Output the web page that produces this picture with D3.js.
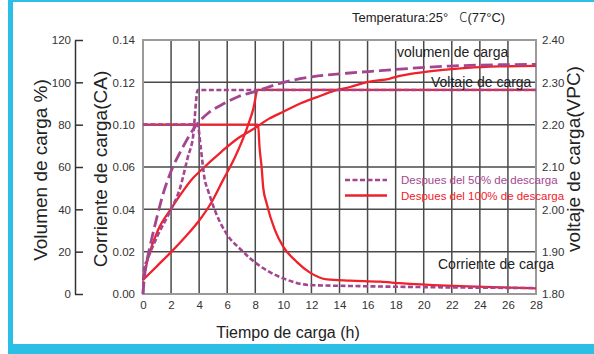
<!DOCTYPE html>
<html><head><meta charset="utf-8">
<script src="https://cdn.jsdelivr.net/npm/d3@7"></script>
<style>
html,body{margin:0;padding:0;background:#fff;}
svg{display:block;font-family:"Liberation Sans",Arial,sans-serif;}
</style></head>
<body>
<svg id="chart" width="594" height="354"></svg>
<script>
// ---- data ----
const hourTicks = [0,2,4,6,8,10,12,14,16,18,20,22,24,26,28];
const pctTicks = [0,20,40,60,80,100,120];
const currentTicks = [0,0.02,0.04,0.06,0.10,0.12,0.14];
const currentTickLabels = ["0.00","0.02","0.04","0.06","0.10","0.12","0.14"];
const voltTicks = [1.8,1.9,2.0,2.1,2.2,2.3,2.4];

// charge volume (%)
const vol50T = [0,0.1,0.25,0.6,1.07,1.42,2.0,2.73,3.8,4.63,5.58,6.77,7.96,9.76,12.13,14.5,16.9,19.5,21.9,25.4,28];
const vol50V = [0,8,14.6,25.5,38.3,47,58,68,79.8,85.4,89.3,93.2,95.6,99.5,102.7,104.3,105.5,106.8,107.7,108.3,108.5];
const vol100T = [0,0.36,1.07,2.02,2.73,3.44,4.15,5.58,6.77,7.96,8.9,10.0,11.2,12.4,13.6,14.75,15.9,17.6,18.3,20.7,23.1,25.4,28];
const vol100V = [6.6,16.9,30.2,40.5,47.5,53.9,58.6,67.2,73.6,78.3,82.5,86.1,90,93,96,97.8,100,101.8,103,105.4,106.8,107.5,107.8];

// charge voltage (VPC)
const volt50T = [0,0.08,0.3,1.0,2.0,2.6,3.2,3.56,3.9,28];
const volt50V = [1.80,1.86,1.88,1.935,2.0,2.046,2.124,2.17,2.282,2.282];
const volt100T = [0,1.0,2.0,2.99,3.99,4.85,5.70,6.55,7.41,7.84,8.19,28];
const volt100V = [1.833,1.866,1.899,1.934,1.973,2.015,2.069,2.123,2.192,2.235,2.282,2.282];

// charge current (CA)
const cur50T = [0,3.9,4.1,4.4,4.63,5.11,5.93,7.0,7.62,8.78,9.99,11.9,14.75,18.3,28];
const cur50V = [0.10,0.10,0.08,0.054,0.049,0.0397,0.0287,0.0208,0.0169,0.0113,0.0074,0.0042,0.0038,0.0034,0.0028];
const cur100T = [0,8.2,8.3,8.45,8.57,8.81,9.4,10.0,10.95,11.9,13.1,14.75,16.9,18.3,28];
const cur100V = [0.10,0.10,0.079,0.06,0.05,0.0428,0.0302,0.0223,0.0152,0.0101,0.0069,0.0063,0.0058,0.0051,0.0027];

const legendLabels = ["Despues del 50% de descarga","Despues del 100% de descarga"];

// ---- layout ----
const W=594,H=354;
const L=143,R=536,T=40,B=294;
const PURPLE="#a3468f", RED="#f0212a", CYAN="#2cbfe5";
const svg=d3.select("#chart");

// frame
svg.append("rect").attr("x",8).attr("y",0).attr("width",5).attr("height",H).attr("fill",CYAN);
svg.append("rect").attr("x",8).attr("y",0).attr("width",W-8).attr("height",2).attr("fill",CYAN);
svg.append("rect").attr("x",8).attr("y",344).attr("width",W-8).attr("height",10).attr("fill",CYAN);

const x=d3.scaleLinear().domain([0,28]).range([L,R]);
const yP=d3.scaleLinear().domain([0,120]).range([B,T]);
const yV=d3.scaleLinear().domain([1.8,2.4]).range([B,T]);
const yI=d3.scaleLinear().domain([0,0.06,0.10,0.14]).range([yP(0),yP(60),yP(80),yP(120)]);

// grid
const g=svg.append("g");
g.selectAll("line.v").data(hourTicks.slice(1,-1)).join("line")
 .attr("x1",d=>x(d)).attr("x2",d=>x(d)).attr("y1",T).attr("y2",B)
 .attr("stroke","#4a4a4a").attr("stroke-width",1.5);
g.selectAll("line.h").data(pctTicks.slice(1,-1)).join("line")
 .attr("x1",L).attr("x2",R).attr("y1",d=>yP(d)).attr("y2",d=>yP(d))
 .attr("stroke","#4a4a4a").attr("stroke-width",1.5);
g.append("rect").attr("x",L).attr("y",T).attr("width",R-L).attr("height",B-T)
 .attr("fill","none").attr("stroke","#9a9a9a").attr("stroke-width",2);

function styleAxis(sel,size){
  sel.selectAll("text").attr("fill","#333").style("font-size",size+"px").style("font-family","'Liberation Sans',Arial,sans-serif");
}
// left % axis
const ax1=svg.append("g").attr("transform","translate(75,0)")
 .call(d3.axisLeft(yP).tickValues(pctTicks).tickSizeInner(-8).tickSizeOuter(0).tickPadding(4));
ax1.select(".domain").attr("stroke","#333").attr("stroke-width",1.5);
ax1.selectAll(".tick line").attr("stroke","#333").attr("stroke-width",1.5);
styleAxis(ax1,11.5);
// current axis
const ax2=svg.append("g").attr("transform",`translate(${L},0)`)
 .call(d3.axisLeft(yI).tickValues(currentTicks).tickSize(0).tickPadding(8).tickFormat((d,i)=>currentTickLabels[i]));
ax2.select(".domain").remove();
styleAxis(ax2,11.5);
// right voltage axis
const ax3=svg.append("g").attr("transform",`translate(${R},0)`)
 .call(d3.axisRight(yV).tickValues(voltTicks).tickSize(0).tickPadding(6).tickFormat(d3.format(".2f")));
ax3.select(".domain").remove();
styleAxis(ax3,11.5);
// x axis
const ax4=svg.append("g").attr("transform",`translate(0,${B})`)
 .call(d3.axisBottom(x).tickValues(hourTicks).tickSize(0).tickPadding(7));
ax4.select(".domain").remove();
styleAxis(ax4,11.5);

// titles
svg.append("text").attr("transform","translate(47,170) rotate(-90)").attr("text-anchor","middle")
 .style("font-size","19px").attr("fill","#222").text("Volumen de carga %)");
svg.append("text").attr("transform","translate(107,169) rotate(-90)").attr("text-anchor","middle")
 .style("font-size","19px").attr("fill","#222").text("Corriente de carga(CA)");
svg.append("text").attr("transform","translate(580,159) rotate(-90)").attr("text-anchor","middle")
 .style("font-size","19px").attr("fill","#222").text("voltaje de carga(VPC)");
svg.append("text").attr("x",288).attr("y",338).attr("text-anchor","middle")
 .style("font-size","16px").attr("fill","#222").text("Tiempo de carga (h)");
const tt=svg.append("text").attr("x",352).attr("y",22).style("font-size","13px").attr("fill","#222");
tt.append("tspan").text("Temperatura:25°");
tt.append("tspan").attr("dx",11).style("font-family","'Noto Sans CJK JP'").style("font-weight","300").text("C");
tt.append("tspan").text("(77°C)");

// curves
const line=(sx,sy)=>d3.line().x(d=>x(d[0])).y(d=>sy(d[1])).curve(d3.curveMonotoneX);
const zip=(a,b)=>a.map((v,i)=>[v,b[i]]);
const series=[
  {t:vol100T,v:vol100V,s:yP,c:RED,dash:null,w:2.3},
  {t:volt100T,v:volt100V,s:yV,c:RED,dash:null,w:2.3},
  {t:cur100T,v:cur100V,s:yI,c:RED,dash:null,w:2.3},
  {t:vol50T,v:vol50V,s:yP,c:PURPLE,dash:"12,5",w:2.8},
  {t:volt50T,v:volt50V,s:yV,c:PURPLE,dash:"5,2.5",w:2.6},
  {t:cur50T,v:cur50V,s:yI,c:PURPLE,dash:"5,2.5",w:2.6}
];
svg.append("g").selectAll("path").data(series).join("path")
 .attr("d",d=>line(x,d.s)(zip(d.t,d.v)))
 .attr("fill","none").attr("stroke",d=>d.c).attr("stroke-width",d=>d.w)
 .attr("stroke-dasharray",d=>d.dash);

// annotations
const ann=[["volumen de carga",397,57],["Voltaje de carga",431,87],["Corriente de carga",438,269]];
svg.append("g").selectAll("text").data(ann).join("text")
 .attr("x",d=>d[1]).attr("y",d=>d[2]).style("font-size","14px").attr("fill","#222").text(d=>d[0]);

// legend
const lg=svg.append("g");
const lgItems=[{c:PURPLE,dash:"5,2.5",y:180},{c:RED,dash:null,y:195.5}];
lg.selectAll("line").data(lgItems).join("line")
 .attr("x1",345).attr("x2",387).attr("y1",d=>d.y).attr("y2",d=>d.y)
 .attr("stroke",d=>d.c).attr("stroke-width",2.6).attr("stroke-dasharray",d=>d.dash);
lg.selectAll("text").data(lgItems).join("text")
 .attr("x",401).attr("y",d=>d.y+4).style("font-size","11.5px").attr("fill",d=>d.c)
 .text((d,i)=>legendLabels[i]);
</script>
</body></html>
